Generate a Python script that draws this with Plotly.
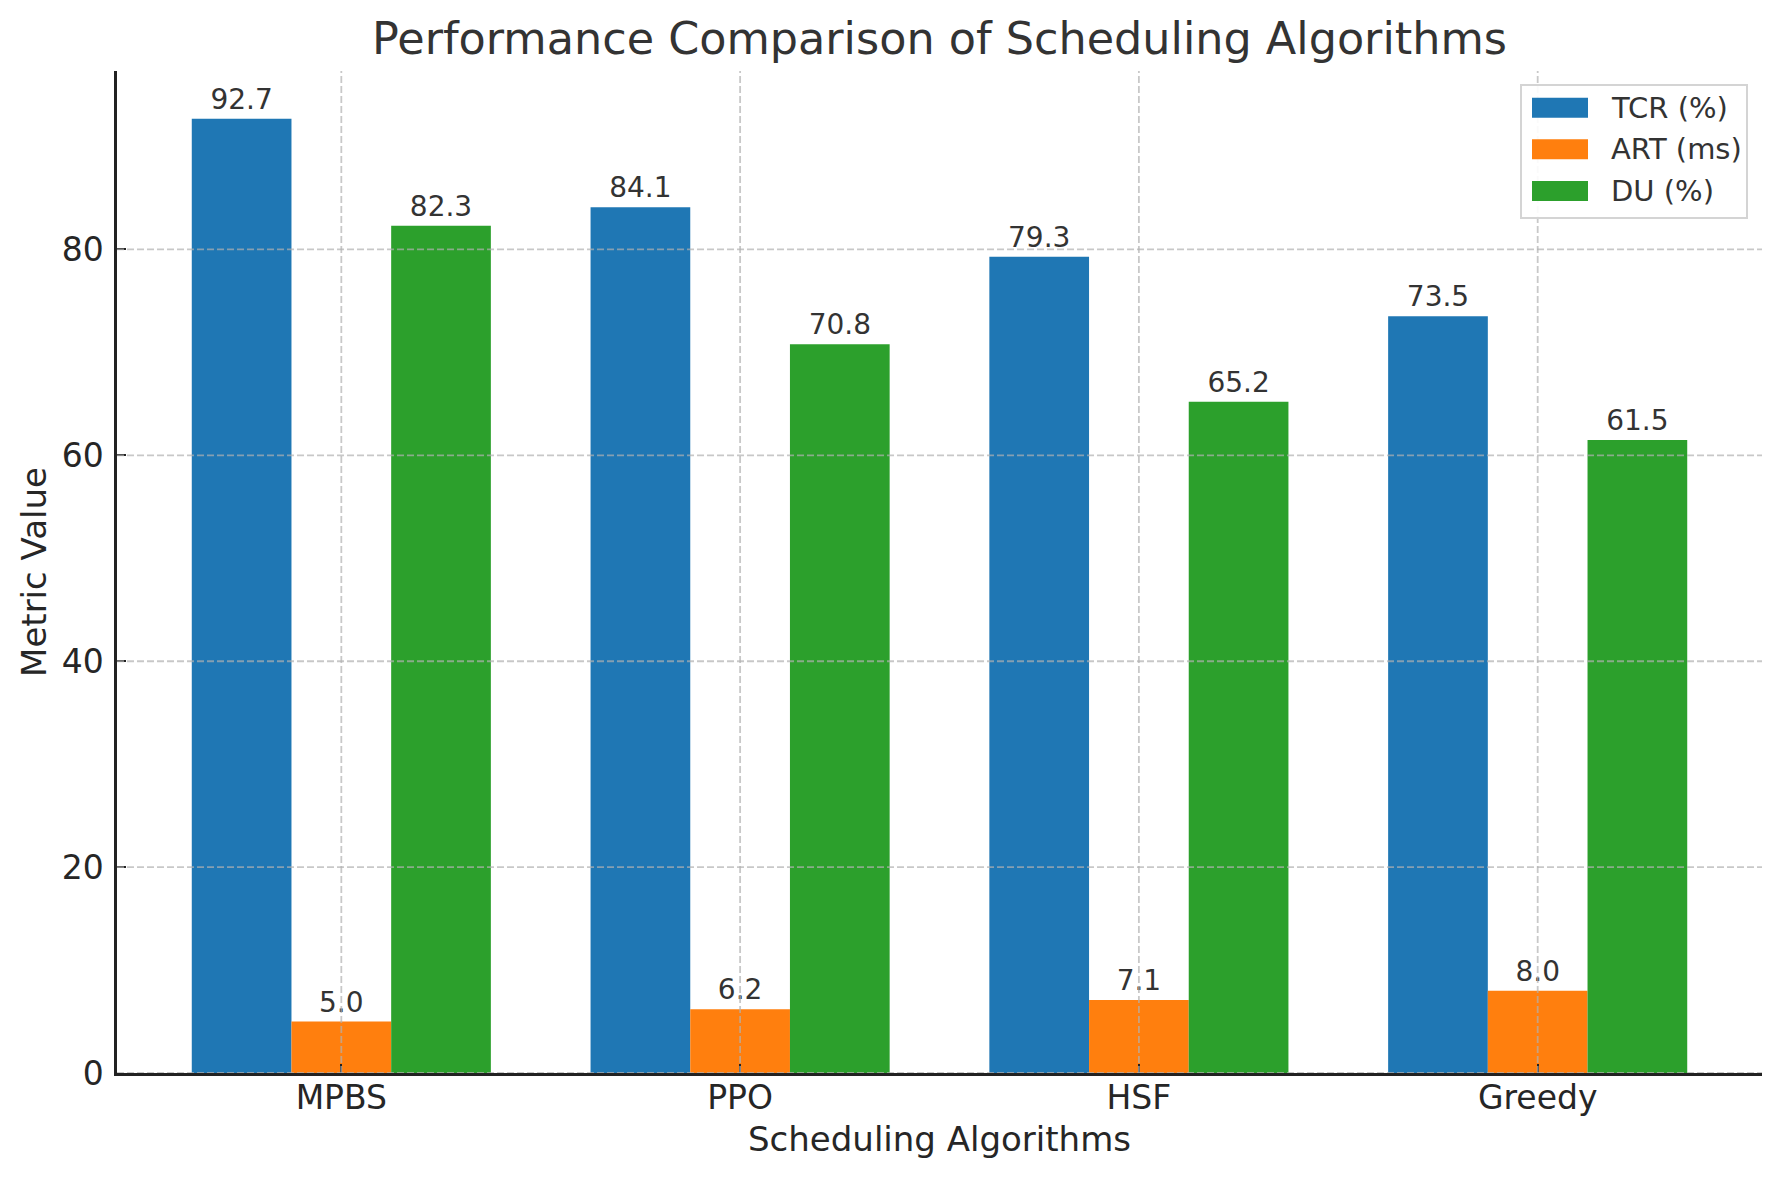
import plotly.graph_objects as go

algorithms = ["MPBS", "PPO", "HSF", "Greedy"]
tcr = [92.7, 84.1, 79.3, 73.5]
art = [5.0, 6.2, 7.1, 8.0]
du = [82.3, 70.8, 65.2, 61.5]
series_names = ["TCR (%)", "ART (ms)", "DU (%)"]
series_colors = ["#1f77b4", "#ff7f0e", "#2ca02c"]
y_ticks = [0, 20, 40, 60, 80]

W, H = 1779, 1180
L, R, T, B = 117, 17, 71, 107
pw, ph = W - L - R, H - T - B

def px_x(px):
    return (px - L) / pw

def px_y(py):
    return (H - B - py) / ph

FONT = "DejaVu Sans"
fig = go.Figure()
for name, vals, col in zip(series_names, [tcr, art, du], series_colors):
    fig.add_trace(go.Bar(
        x=algorithms, y=vals, name=name, marker=dict(color=col, line=dict(width=0)),
        text=[f"{v:.1f}" for v in vals], textposition="outside",
        textfont=dict(family=FONT, size=28, color="#333333"),
        cliponaxis=False, constraintext="none", showlegend=False,
    ))

shapes = []
grid_line = dict(color="rgba(176,176,176,0.7)", width=1.8, dash="7px,3px")
for t in y_ticks:
    shapes.append(dict(type="line", xref="paper", yref="y", x0=0, x1=1, y0=t, y1=t,
                       line=grid_line, layer="above"))
for a in algorithms:
    shapes.append(dict(type="line", xref="x", yref="paper", x0=a, x1=a, y0=0, y1=1,
                       line=grid_line, layer="above"))

# custom legend box
shapes.append(dict(type="rect", xref="paper", yref="paper",
                   x0=px_x(1521), x1=px_x(1747), y0=px_y(218), y1=px_y(85),
                   line=dict(color="#d4d4d4", width=2), fillcolor="rgba(255,255,255,0.9)",
                   layer="above"))
annotations = []
row_centers = [107.7, 149.3, 191.0]
for name, col, yc in zip(series_names, series_colors, row_centers):
    shapes.append(dict(type="rect", xref="paper", yref="paper",
                       x0=px_x(1532), x1=px_x(1588), y0=px_y(yc + 10), y1=px_y(yc - 10),
                       line=dict(width=0), fillcolor=col, layer="above"))
    annotations.append(dict(xref="paper", yref="paper", x=px_x(1609), y=px_y(yc),
                            xanchor="left", yanchor="middle", showarrow=False, text=name,
                            font=dict(family=FONT, size=29, color="#333333")))

fig.update_layout(
    width=W, height=H,
    margin=dict(l=L, r=R, t=T, b=B, autoexpand=False),
    paper_bgcolor="white", plot_bgcolor="white",
    barmode="group", bargap=0.25, bargroupgap=0,
    font=dict(family=FONT, color="#262626"),
    title=dict(text="Performance Comparison of Scheduling Algorithms",
               font=dict(family=FONT, size=44.5, color="#333333"),
               x=0.5 * (L + (W - R)) / W, xanchor="center",
               y=1 - 38 / H, yanchor="middle", yref="container"),
    shapes=shapes, annotations=annotations,
)
fig.update_xaxes(
    type="category", range=[-0.5625, 3.5625], showgrid=False, zeroline=False,
    showline=True, linecolor="#222222", linewidth=2.5, mirror=False,
    ticks="inside", ticklen=9, tickwidth=2, tickcolor="#222222",
    tickfont=dict(family=FONT, size=33, color="#262626"), ticklabelstandoff=-6,
    title=dict(text="Scheduling Algorithms", font=dict(family=FONT, size=34, color="#262626"),
               standoff=11),
    layer="above traces",
)
fig.update_yaxes(
    range=[0, 97.335], tickvals=y_ticks, ticktext=[str(t) for t in y_ticks],
    showgrid=False, zeroline=False,
    showline=True, linecolor="#222222", linewidth=2.5, mirror=False,
    ticks="inside", ticklen=9, tickwidth=2, tickcolor="#222222",
    tickfont=dict(family=FONT, size=33, color="#262626"), ticklabelstandoff=4,
    title=dict(text="Metric Value", font=dict(family=FONT, size=34, color="#262626"),
               standoff=5),
    layer="above traces",
)

fig.write_html("out.html", config={"displayModeBar": False},
               post_script="document.body.style.margin='0';document.body.style.overflow='hidden';")
